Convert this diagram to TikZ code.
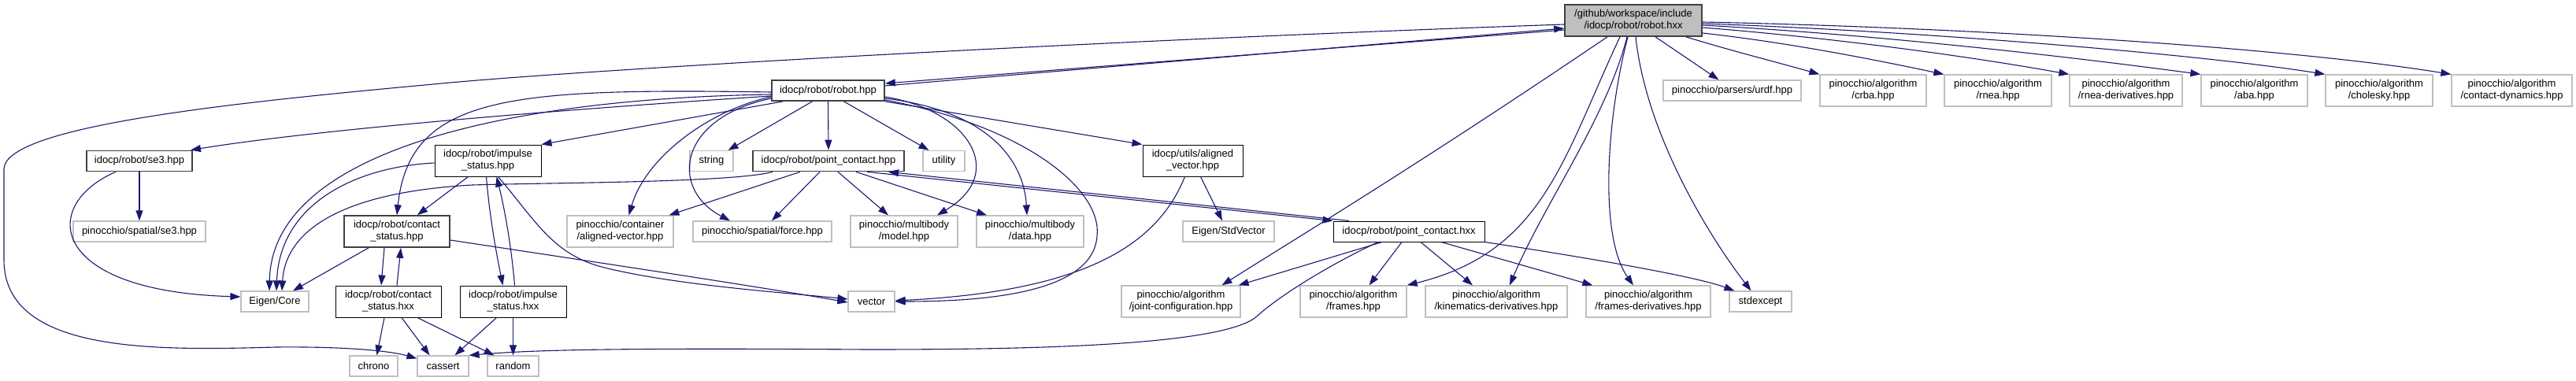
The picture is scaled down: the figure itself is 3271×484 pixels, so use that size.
\documentclass[tikz,border=0pt]{standalone}
\usepackage{fontspec}
\setmainfont{Liberation Sans}
\usetikzlibrary{arrows.meta}
\definecolor{edgeblue}{HTML}{191970}
\definecolor{grey75}{HTML}{BFBFBF}
\begin{document}
\begin{tikzpicture}[
    x=1pt, y=-1pt,
    font=\fontsize{13}{15}\selectfont,
    box/.style={rectangle, inner sep=0pt, minimum height=26pt, align=center, line width=1.2pt, fill=white},
    docbox/.style={box, draw=black, line width=1pt},
    docboxb/.style={box, draw=black!75, line width=1.7pt},
    extbox/.style={box, draw=grey75},
    rootbox/.style={box, draw=black!75, line width=1.7pt, fill=grey75},
    dep/.style={draw=edgeblue, line width=1.1pt, -{Triangle[length=13pt,width=9pt]}}
]
\useasboundingbox (0,0) rectangle (3271,484);
\node[rootbox, minimum width=174pt, minimum height=40pt] (root) at (2074,26) {/github/workspace/include\\/idocp/robot/robot.hxx};
\node[docboxb, minimum width=143pt] (robot) at (1051.5,115) {idocp/robot/robot.hpp};
\node[docboxb, minimum width=134pt] (se3) at (177,204.5) {idocp/robot/se3.hpp};
\node[docbox, minimum width=135pt, minimum height=40pt] (impulse) at (619.5,204) {idocp/robot/impulse\\\_status.hpp};
\node[extbox, minimum width=55pt] (string) at (903.5,204.5) {string};
\node[docboxb, minimum width=192pt] (pchpp) at (1052,204.5) {idocp/robot/point\_contact.hpp};
\node[extbox, minimum width=53pt] (utility) at (1198.5,204.5) {utility};
\node[docbox, minimum width=127pt, minimum height=40pt] (alvec) at (1514.5,204) {idocp/utils/aligned\\\_vector.hpp};
\node[extbox, minimum width=168pt] (psse3) at (177,294) {pinocchio/spatial/se3.hpp};
\node[docboxb, minimum width=134pt, minimum height=40pt] (cst) at (504,294) {idocp/robot/contact\\\_status.hpp};
\node[extbox, minimum width=135pt, minimum height=40pt] (pvec) at (787.5,294) {pinocchio/container\\/aligned-vector.hpp};
\node[extbox, minimum width=176pt] (force) at (968,294) {pinocchio/spatial/force.hpp};
\node[extbox, minimum width=136pt, minimum height=40pt] (model) at (1148,294) {pinocchio/multibody\\/model.hpp};
\node[extbox, minimum width=136pt, minimum height=40pt] (data) at (1308,294) {pinocchio/multibody\\/data.hpp};
\node[extbox, minimum width=116pt] (stdvec) at (1560,294) {Eigen/StdVector};
\node[docbox, minimum width=192pt] (pchxx) at (1789,294) {idocp/robot/point\_contact.hxx};
\node[extbox, minimum width=86pt] (eigen) at (349,383) {Eigen/Core};
\node[docbox, minimum width=134pt, minimum height=40pt] (csthxx) at (493,383) {idocp/robot/contact\\\_status.hxx};
\node[docbox, minimum width=135pt, minimum height=40pt] (imphxx) at (651.5,383) {idocp/robot/impulse\\\_status.hxx};
\node[extbox, minimum width=59pt] (vector) at (1106.5,383) {vector};
\node[extbox, minimum width=151pt, minimum height=40pt] (jointcfg) at (1499.5,383) {pinocchio/algorithm\\/joint-configuration.hpp};
\node[extbox, minimum width=135pt, minimum height=40pt] (frames) at (1718.5,383) {pinocchio/algorithm\\/frames.hpp};
\node[extbox, minimum width=180pt, minimum height=40pt] (kindiff) at (1900,383) {pinocchio/algorithm\\/kinematics-derivatives.hpp};
\node[extbox, minimum width=158pt, minimum height=40pt] (framesdiff) at (2093,383) {pinocchio/algorithm\\/frames-derivatives.hpp};
\node[extbox, minimum width=79pt] (stdexcept) at (2235.5,383) {stdexcept};
\node[extbox, minimum width=61pt] (chrono) at (474.5,465) {chrono};
\node[extbox, minimum width=65pt] (cassert) at (562.5,465) {cassert};
\node[extbox, minimum width=65pt] (random) at (651.5,465) {random};
\node[extbox, minimum width=175pt] (urdf) at (2199.5,115) {pinocchio/parsers/urdf.hpp};
\node[extbox, minimum width=135pt, minimum height=40pt] (crba) at (2378.5,115) {pinocchio/algorithm\\/crba.hpp};
\node[extbox, minimum width=136pt, minimum height=40pt] (rnea) at (2537,115) {pinocchio/algorithm\\/rnea.hpp};
\node[extbox, minimum width=143pt, minimum height=40pt] (rneadiff) at (2699.5,115) {pinocchio/algorithm\\/rnea-derivatives.hpp};
\node[extbox, minimum width=135pt, minimum height=40pt] (aba) at (2862.5,115) {pinocchio/algorithm\\/aba.hpp};
\node[extbox, minimum width=136pt, minimum height=40pt] (cholesky) at (3021,115) {pinocchio/algorithm\\/cholesky.hpp};
\node[extbox, minimum width=153pt, minimum height=40pt] (contdyn) at (3189.5,115) {pinocchio/algorithm\\/contact-dynamics.hpp};

\draw[dep] ([yshift=-12pt]root.west) -- ([yshift=9pt]robot.east);
\draw[dep] ([yshift=-5pt]root.west) .. controls (1300,55) and (700,92) .. (550,107) .. controls (300,130) and (5,160) .. (5,215) -- (5,330) .. controls (5,450) and (200,445) .. (350,441) .. controls (450,440) and (500,447) .. ([yshift=-4pt]cassert.north west);
\draw[dep] ([xshift=-33pt]root.south) .. controls (1800,210) and (1650,300) .. ([xshift=52pt]jointcfg.north);
\draw[dep] ([xshift=-17pt]root.south) .. controls (1985,200) and (1960,320) .. (frames.north east);
\draw[dep] ([xshift=-8pt]root.south) .. controls (2040,150) and (1960,260) .. ([xshift=17pt]kindiff.north);
\draw[dep] ([xshift=-7pt]root.south) .. controls (2040,150) and (2030,300) .. ([xshift=-19pt]framesdiff.north);
\draw[dep] ([xshift=3pt]root.south) .. controls (2090,170) and (2170,300) .. ([xshift=-12pt]stdexcept.north);
\draw[dep] ([xshift=28pt]root.south) -- ([xshift=-17pt]urdf.north);
\draw[dep] ([xshift=-21pt]root.south east) .. controls (2200,65) and (2260,80) .. (crba.north west);
\draw[dep] ([yshift=-16pt]root.east) .. controls (2280,55) and (2400,80) .. (rnea.north west);
\draw[dep] ([yshift=-9pt]root.east) .. controls (2350,50) and (2520,75) .. (rneadiff.north west);
\draw[dep] ([yshift=-6pt]root.east) .. controls (2400,45) and (2650,75) .. (aba.north west);
\draw[dep] ([yshift=-4pt]root.east) .. controls (2450,40) and (2800,70) .. (cholesky.north west);
\draw[dep] ([yshift=-2pt]root.east) .. controls (2500,35) and (2900,60) .. (contdyn.north west);

\draw[dep] ([yshift=6pt]robot.east) -- ([yshift=-10pt]root.west);
\draw[dep] ([yshift=-7pt]robot.west) .. controls (700,140) and (400,165) .. ([xshift=65pt]se3.north);
\draw[dep] ([yshift=-2pt]robot.west) .. controls (650,112) and (520,120) .. (cst.north);
\draw[dep] ([yshift=-5pt]robot.west) .. controls (650,125) and (345,190) .. ([xshift=-7pt]eigen.north);
\draw[dep] ([xshift=15pt]robot.south west) -- (impulse.north east);
\draw[dep] ([yshift=-8pt]robot.west) .. controls (900,140) and (820,200) .. ([xshift=11pt]pvec.north);
\draw[dep] ([yshift=-10pt]robot.west) .. controls (860,150) and (850,240) .. ([xshift=-41pt]force.north);
\draw[dep] ([xshift=-20pt]robot.south) -- ([xshift=21pt]string.north);
\draw[dep] (robot.south) -- (pchpp.north);
\draw[dep] ([xshift=20pt]robot.south) -- ([xshift=-19pt]utility.north);
\draw[dep] ([yshift=-8pt]robot.east) .. controls (1230,140) and (1280,220) .. ([xshift=42pt]model.north);
\draw[dep] ([yshift=-10pt]robot.east) .. controls (1250,140) and (1300,200) .. ([xshift=-4pt]data.north);
\draw[dep] ([yshift=-12pt]robot.east) .. controls (1300,160) and (1400,240) .. (1393,300) .. controls (1388,370) and (1260,383) .. (vector.east);
\draw[dep] (robot.south east) -- (alvec.north west);

\draw[dep] ([yshift=-3pt]impulse.west) .. controls (450,212) and (355,260) .. ([xshift=2pt]eigen.north);
\draw[dep] ([xshift=-25pt]impulse.south) -- ([xshift=26pt]cst.north);
\draw[dep] ([xshift=-2pt]impulse.south) .. controls (622,280) and (632,330) .. ([xshift=-13pt]imphxx.north);
\draw[dep] ([xshift=2pt]imphxx.north) .. controls (650,320) and (642,270) .. ([xshift=11pt]impulse.south);
\draw[dep] ([xshift=13pt]impulse.south) .. controls (680,280) and (700,320) .. (760,338) .. controls (850,362) and (1000,372) .. ([yshift=3pt]vector.west);

\draw[dep] ([xshift=-36pt]cst.south) -- ([xshift=23pt]eigen.north);
\draw[dep] ([xshift=-16pt]cst.south) -- ([xshift=-9pt]csthxx.north);
\draw[dep] ([xshift=11pt]csthxx.north) -- ([xshift=5pt]cst.south);
\draw[dep] ([yshift=-11pt]cst.east) .. controls (750,332) and (950,362) .. ([yshift=-1pt]vector.west);
\draw[dep] ([xshift=-5pt]csthxx.south) -- ([xshift=4pt]chrono.north);
\draw[dep] ([xshift=17pt]csthxx.south) -- ([xshift=-17pt]cassert.north);
\draw[dep] ([xshift=37pt]csthxx.south) -- ([xshift=-24pt]random.north);
\draw[dep] ([xshift=-21pt]imphxx.south) -- ([xshift=15pt]cassert.north);
\draw[dep] (imphxx.south) -- (random.north);

\draw[dep] (se3.south) -- (psse3.north);
\draw[dep] ([xshift=-30pt]se3.south) .. controls (50,260) and (60,370) .. ([yshift=6pt]eigen.west);

\draw[dep] ([xshift=26pt]pchpp.south west) .. controls (930,232) and (700,232) .. (600,235) .. controls (420,245) and (362,300) .. ([xshift=9pt]eigen.north);
\draw[dep] ([xshift=-36pt]pchpp.south) -- ([xshift=62pt]pvec.north);
\draw[dep] ([xshift=-11pt]pchpp.south) -- ([xshift=12pt]force.north);
\draw[dep] ([xshift=12pt]pchpp.south) -- ([xshift=-20pt]model.north);
\draw[dep] ([xshift=35pt]pchpp.south) -- ([xshift=-55pt]data.north);
\draw[dep] ([xshift=49pt]pchpp.south) -- (pchxx.north west);
\draw[dep] ([xshift=-76pt]pchxx.north) -- ([xshift=76pt]pchpp.south);

\draw[dep] ([xshift=-34pt]pchxx.south) -- ([xshift=-3pt]jointcfg.north east);
\draw[dep] ([xshift=-39pt]pchxx.south) .. controls (1680,340) and (1620,380) .. (1598,400) .. controls (1560,440) and (1300,444) .. (1100,444) .. controls (800,442) and (680,444) .. (cassert.north east);
\draw[dep] ([xshift=-9pt]pchxx.south) -- ([xshift=20pt]frames.north);
\draw[dep] ([xshift=15pt]pchxx.south) -- ([xshift=-30pt]kindiff.north);
\draw[dep] ([xshift=41pt]pchxx.south) -- ([xshift=9pt]framesdiff.north west);
\draw[dep] (pchxx.south east) .. controls (2000,325) and (2150,350) .. ([xshift=7pt]stdexcept.north west);

\draw[dep] ([xshift=-10pt]alvec.south) .. controls (1470,310) and (1380,370) .. ([yshift=1pt]vector.east);
\draw[dep] ([xshift=10pt]alvec.south) -- ([xshift=-8pt]stdvec.north);
\end{tikzpicture}
\end{document}
